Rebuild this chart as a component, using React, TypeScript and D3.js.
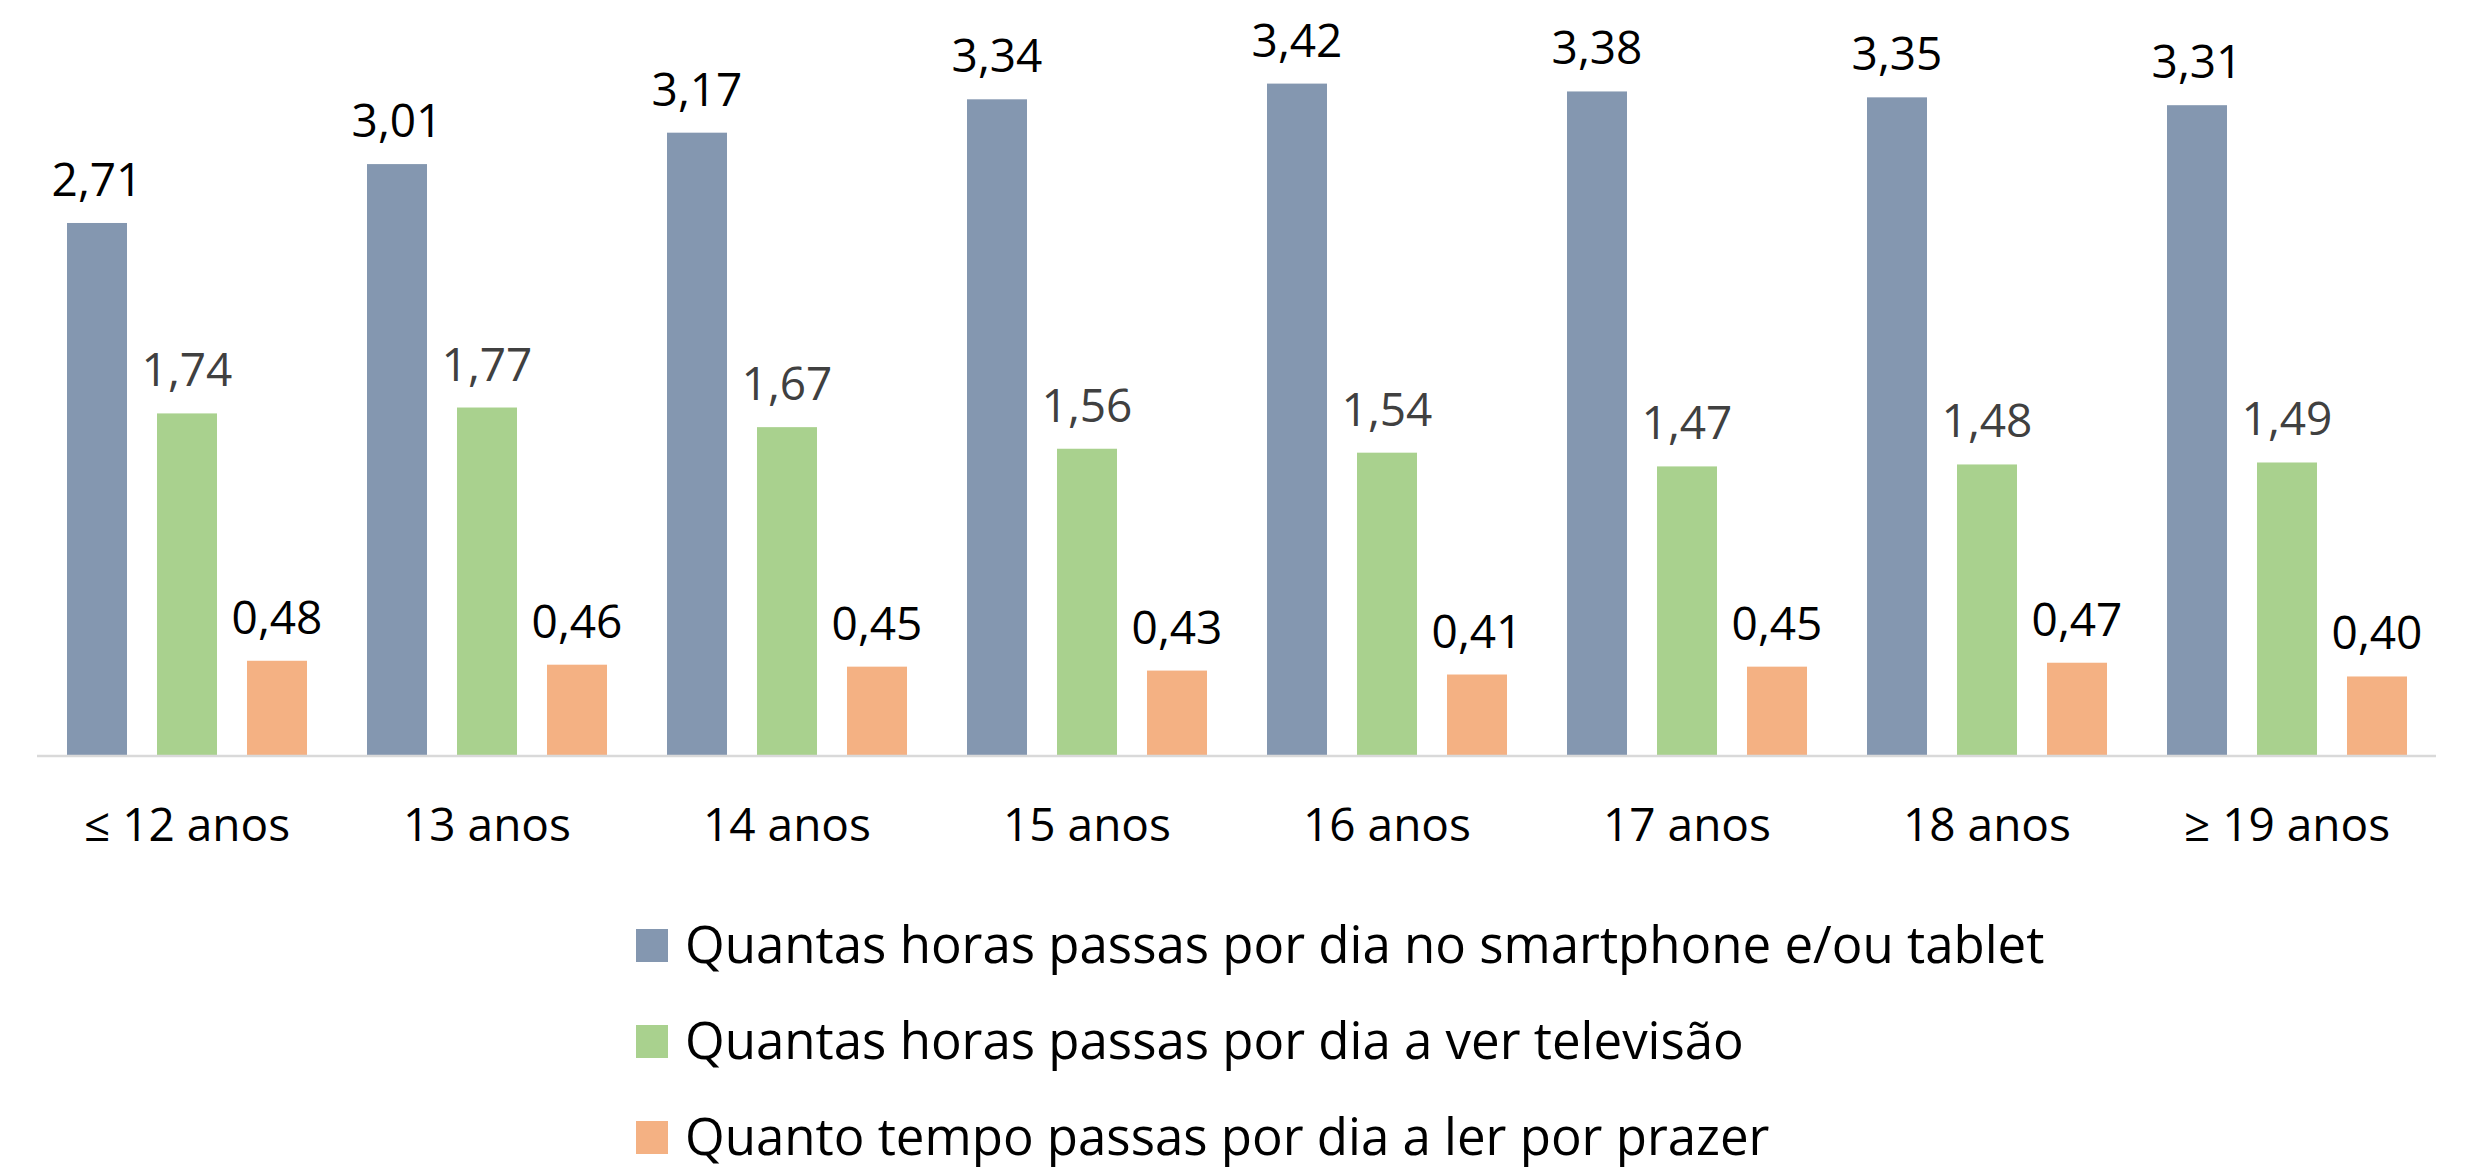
import React from 'react';
import * as d3 from 'd3';

// Age groups (x axis)
const categories = ['≤ 12 anos', '13 anos', '14 anos', '15 anos', '16 anos', '17 anos', '18 anos', '≥ 19 anos'];

// Series names shown in the legend
const seriesNames = [
  'Quantas horas passas por dia no smartphone e/ou tablet',
  'Quantas horas passas por dia a ver televisão',
  'Quanto tempo passas por dia a ler por prazer',
];

// Values per age group, one array per series
const smartphoneValues = [2.71, 3.01, 3.17, 3.34, 3.42, 3.38, 3.35, 3.31];
const televisionValues = [1.74, 1.77, 1.67, 1.56, 1.54, 1.47, 1.48, 1.49];
const readingValues = [0.48, 0.46, 0.45, 0.43, 0.41, 0.45, 0.47, 0.40];

const seriesColors = ['#8497B0', '#A9D18E', '#F4B183'];
const labelColors = ['#000000', '#404040', '#000000'];

const WIDTH = 2474;
const HEIGHT = 1170;
const FONT = '"Open Sans", "Noto Sans", sans-serif';

const App = () => {
  const seriesValues = [smartphoneValues, televisionValues, readingValues];
  const baseline = 755;

  const x = d3.scaleBand<string>()
    .domain(categories)
    .range([37, 2437])
    .padding(0);

  const xInner = d3.scaleBand<number>()
    .domain(d3.range(seriesNames.length))
    .range([0, x.bandwidth()])
    .padding(1 / 3);

  const y = d3.scaleLinear()
    .domain([0, 3.8])
    .range([baseline, 9]);

  const fmt = (v: number) => d3.format('.2f')(v).replace('.', ',');

  return (
    <div style={{ position: 'absolute', left: 0, top: 0 }}>
      <svg width={WIDTH} height={HEIGHT} style={{ display: 'block', background: '#fff' }} fontFamily={FONT}>
        {/* bars + data labels */}
        {categories.map((cat, i) => (
          <g key={cat} transform={`translate(${x(cat)},0)`}>
            {seriesValues.map((vals, s) => {
              const v = vals[i];
              const bx = xInner(s) as number;
              return (
                <g key={s}>
                  <rect
                    x={bx}
                    y={y(v)}
                    width={xInner.bandwidth()}
                    height={y(0) - y(v)}
                    fill={seriesColors[s]}
                  />
                  <text
                    x={bx + xInner.bandwidth() / 2}
                    y={y(v) - 27}
                    textAnchor="middle"
                    fontSize={46}
                    fill={labelColors[s]}
                  >
                    {fmt(v)}
                  </text>
                </g>
              );
            })}
          </g>
        ))}

        {/* category axis line */}
        <line x1={x.range()[0]} x2={x.range()[1] - 1} y1={baseline + 1} y2={baseline + 1} stroke="#D9D9D9" strokeWidth={2.5} />

        {/* category labels */}
        {categories.map(cat => (
          <text
            key={cat}
            x={(x(cat) as number) + x.bandwidth() / 2}
            y={841}
            textAnchor="middle"
            fontSize={46}
            fill="#000"
          >
            {cat}
          </text>
        ))}

        {/* legend */}
        {seriesNames.map((name, s) => (
          <g key={name} transform={`translate(636,${929 + s * 96})`}>
            <rect x={0} y={0} width={32} height={33} fill={seriesColors[s]} />
            <text x={49} y={34} fontSize={51} fill="#000">{name}</text>
          </g>
        ))}
      </svg>
    </div>
  );
};

export default App;
